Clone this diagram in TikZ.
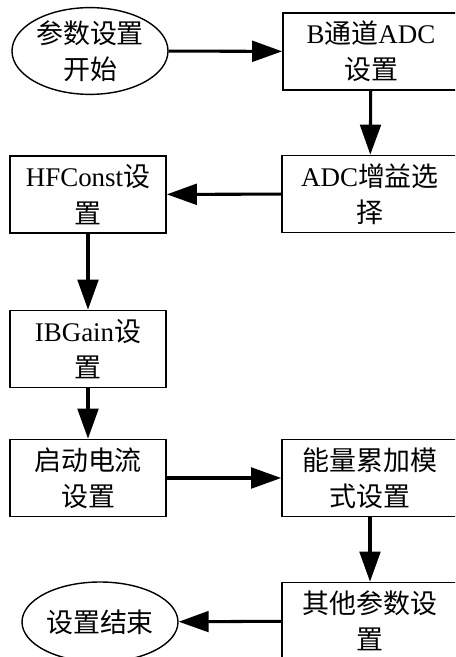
\documentclass[tikz,border=0pt]{standalone}
\usepackage{fontspec}
\setmainfont{Liberation Serif}
\newfontfamily\cjk{Noto Sans CJK SC}
\usetikzlibrary{arrows.meta,shapes.geometric}

\begin{document}
\begin{tikzpicture}[
        x=0.03cm,
        y=-0.03cm,
        txt/.style={
            align=center,
            inner sep=0pt,
            font=\fontsize{23}{31}\selectfont\cjk,
        },
        box/.style={
            txt,
            draw,
            line width=1.4pt,
            minimum height=2.31cm,
        },
        oval/.style={
            txt,
            draw,
            ellipse,
            line width=1.2pt,
            minimum width=4.68cm,
            minimum height=2.4cm,
        },
        flow/.style={
            line width=2.6pt,
            -{Triangle[length=0.9cm,width=0.62cm]},
        },
    ]
    \clip (0,0) rectangle (455,657);

    \node[oval] (begin) at (90,51) {参数设置\\开始};
    \node[box, minimum width=5.28cm] (bchan) at (371,51.5) {\textrm{B}通道\textrm{ADC}\\设置};
    \node[box, minimum width=5.28cm] (gain) at (370,194) {\textrm{ADC}增益选\\择};
    \node[box, minimum width=4.68cm] (hfconst) at (88,194.5) {\textrm{HFConst}设\\置};
    \node[box, minimum width=4.68cm] (ibgain) at (88,349) {\textrm{IBGain}设\\置};
    \node[box, minimum width=4.68cm] (startcur) at (88,478) {启动电流\\设置};
    \node[box, minimum width=5.28cm] (energy) at (370,478) {能量累加模\\式设置};
    \node[box, minimum width=5.28cm] (others) at (370,621) {其他参数设\\置};
    \node[oval] (finish) at (100,622) {设置结束};

    \draw[flow] (begin) -- (bchan);
    \draw[flow] (bchan) -- (gain);
    \draw[flow] (gain) -- (hfconst);
    \draw[flow] (hfconst) -- (ibgain);
    \draw[flow] (ibgain) -- (startcur);
    \draw[flow] (startcur) -- (energy);
    \draw[flow] (energy) -- (others);
    \draw[flow] (others) -- (finish);
\end{tikzpicture}
\end{document}
